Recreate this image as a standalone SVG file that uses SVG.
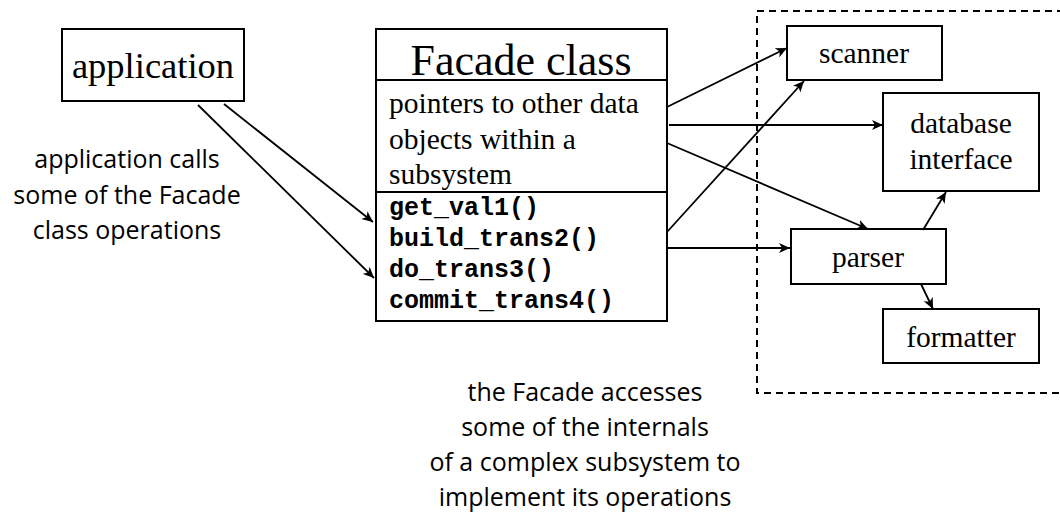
<svg xmlns="http://www.w3.org/2000/svg" width="1060" height="515" viewBox="0 0 1060 515">
<style>
.box{fill:#fff;stroke:#000;stroke-width:2}
.ser{font-family:"Liberation Serif",serif;fill:#000}
.mono{font-family:"Liberation Mono",monospace;font-weight:bold;font-size:25px;fill:#000}
.note{font-family:"Open Sans",sans-serif;font-size:25px;fill:#000;text-anchor:middle}
.conn line{stroke:#000;stroke-width:1.8;fill:none}
</style>
<defs>
<marker id="ah" markerWidth="12" markerHeight="10" refX="11" refY="5" orient="auto" markerUnits="userSpaceOnUse">
<path d="M0,0 L11,5 L0,10 L3,5 Z" fill="#000"/>
</marker>
</defs>
<rect x="757" y="11" width="320" height="382" fill="none" stroke="#000" stroke-width="2" stroke-dasharray="7,5"/>
<g id="application">
<rect class="box" x="62" y="29" width="182" height="72"/>
<text class="ser" x="153" y="78" font-size="36.5" text-anchor="middle">application</text>
</g>
<g id="facade">
<rect class="box" x="376" y="29" width="291" height="292"/>
<line x1="376" y1="80" x2="667" y2="80" stroke="#000" stroke-width="2"/>
<line x1="376" y1="192" x2="667" y2="192" stroke="#000" stroke-width="2"/>
<text class="ser" x="521" y="75" font-size="44" text-anchor="middle">Facade class</text>
<text class="ser" x="389" y="113" font-size="29.5">pointers to other data</text>
<text class="ser" x="389" y="149" font-size="29.5">objects within a</text>
<text class="ser" x="389" y="184" font-size="29.5">subsystem</text>
<text class="mono" x="389" y="215">get_val1()</text>
<text class="mono" x="389" y="246">build_trans2()</text>
<text class="mono" x="389" y="277">do_trans3()</text>
<text class="mono" x="389" y="308">commit_trans4()</text>
</g>
<g id="scanner">
<rect class="box" x="787" y="26" width="155" height="54"/>
<text class="ser" x="864" y="63" font-size="29.5" text-anchor="middle">scanner</text>
</g>
<g id="database">
<rect class="box" x="883" y="93" width="156" height="98"/>
<text class="ser" x="961" y="133" font-size="29.5" text-anchor="middle">database</text>
<text class="ser" x="961" y="169" font-size="29.5" text-anchor="middle">interface</text>
</g>
<g id="parser">
<rect class="box" x="791" y="229" width="155" height="55"/>
<text class="ser" x="868" y="267" font-size="29.5" text-anchor="middle">parser</text>
</g>
<g id="formatter">
<rect class="box" x="883" y="309" width="156" height="54"/>
<text class="ser" x="961" y="347" font-size="29.5" text-anchor="middle">formatter</text>
</g>
<g class="conn">
<line x1="224" y1="104" x2="373" y2="222" marker-end="url(#ah)"/>
<line x1="198" y1="105" x2="374" y2="278" marker-end="url(#ah)"/>
<line x1="667" y1="107" x2="787" y2="48" marker-end="url(#ah)"/>
<line x1="669" y1="125" x2="883" y2="125" marker-end="url(#ah)"/>
<line x1="667" y1="143" x2="868" y2="229" marker-end="url(#ah)"/>
<line x1="667" y1="232" x2="804" y2="81" marker-end="url(#ah)"/>
<line x1="667" y1="248" x2="790" y2="248" marker-end="url(#ah)"/>
<line x1="923" y1="230" x2="946" y2="192" marker-end="url(#ah)"/>
<line x1="921" y1="284" x2="933" y2="309" marker-end="url(#ah)"/>
</g>
<text class="note" x="127" y="168">application calls</text>
<text class="note" x="127" y="204">some of the Facade</text>
<text class="note" x="127" y="239">class operations</text>
<text class="note" x="585" y="401">the Facade accesses</text>
<text class="note" x="585" y="436">some of the internals</text>
<text class="note" x="585" y="471">of a complex subsystem to</text>
<text class="note" x="585" y="506">implement its operations</text>
</svg>
